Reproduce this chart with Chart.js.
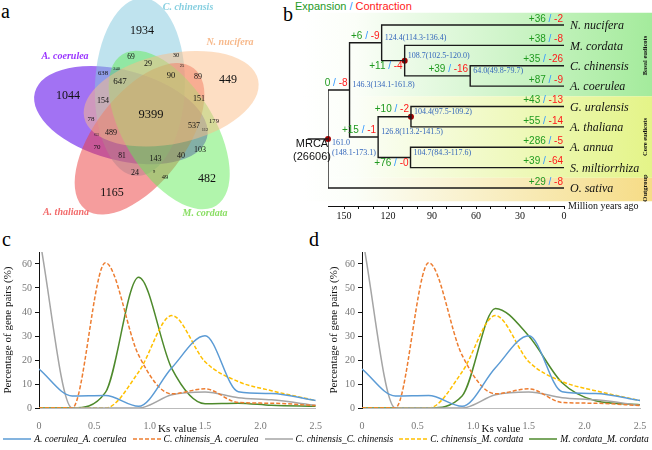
<!DOCTYPE html>
<html>
<head>
<meta charset="utf-8">
<script src="https://cdn.jsdelivr.net/npm/chart.js@4.4.0/dist/chart.umd.min.js"></script>
<style>
body{margin:0;background:#fff;width:652px;height:450px;position:relative;overflow:hidden;font-family:"Liberation Serif",serif}
canvas{position:absolute}
.lab{position:absolute;font-family:"Liberation Serif",serif;font-size:20px;line-height:1}
#head{position:absolute;left:295px;top:0px;font:11px "Liberation Sans",Arial,sans-serif;white-space:nowrap}
#legend{position:absolute;left:0;top:434px;width:652px;display:flex;justify-content:center;align-items:center;font:italic 9.5px "Liberation Serif",serif;white-space:nowrap}
#legend span.it{display:flex;align-items:center;margin:0 3px}
#legend svg{margin-right:3px}
</style>
</head>
<body>
<div class="lab" style="left:1px;top:1px">a</div>
<div class="lab" style="left:283px;top:4px">b</div>
<div class="lab" style="left:2px;top:229px">c</div>
<div class="lab" style="left:309px;top:229px">d</div>
<div id="head"><span style="color:#1f9a1f">Expansion</span><span style="color:#3399ff"> / </span><span style="color:#ff1a1a">Contraction</span></div>

<canvas id="venn" width="280" height="225" style="left:0;top:0"></canvas>
<canvas id="tree" width="369" height="226" style="left:283px;top:0"></canvas>
<canvas id="ksC" width="326" height="196" style="left:0;top:242px"></canvas>
<canvas id="ksD" width="326" height="196" style="left:326px;top:242px"></canvas>
<div id="legend"></div>

<script>
// ---- a: gene family Venn ----
var vennSets = ['A. coerulea', 'C. chinensis', 'N. nucifera', 'M. cordata', 'A. thaliana'];
var vennCounts = [1044, 1934, 449, 482, 1165, 9399, 69, 29, 30, 25, 90, 89, 638, 240, 647, 154, 151, 78, 179, 537, 112, 63, 489, 70, 81, 143, 40, 103, 24, 9, 49];

// ---- b: species tree ----
var tipNames = ['N. nucifera', 'M. cordata', 'C. chinensis', 'A. coerulea', 'G. uralensis', 'A. thaliana', 'A. annua', 'S. miltiorrhiza', 'O. sativa'];
var tipGain = [36, 38, 35, 87, 43, 55, 286, 39, 29];
var tipLoss = [2, 8, 26, 9, 13, 14, 5, 64, 8];
var nodeAge = [64.0, 108.7, 124.4, 104.4, 104.7, 126.8, 146.3, 161.0];
var nodeLow = [49.8, 102.5, 114.3, 97.5, 84.3, 113.2, 134.1, 148.1];
var nodeHigh = [79.7, 120.0, 136.4, 109.2, 117.6, 141.5, 161.8, 173.1];
var nodeGain = [39, 11, 6, 10, 76, 15, 0, null];
var nodeLoss = [16, 4, 9, 2, 0, 1, 8, null];
var nodeKids = [['t2', 't3'], ['t1', 'n0'], ['t0', 'n1'], ['t4', 't5'], ['t6', 't7'], ['n3', 'n4'], ['n2', 'n5'], ['n6', 't8']];
var calibrated = [1, 3, 7];
var groupNames = ['Basal eudicots', 'Core eudicots', 'Outgroup'];
var groupRows = [[1, 4], [5, 8], [9, 9]];
var mrcaFamilies = 26606;

// ---- c/d: Ks distributions ----
var pairLabels = ['A. coerulea_A. coerulea', 'C. chinensis_A. coerulea', 'C. chinensis_C. chinensis', 'C. chinensis_M. cordata', 'M. cordata_M. cordata'];
var ksValues = [0, 0.3, 0.6, 0.9, 1.2, 1.5, 1.8, 2.1, 2.5];
var coerCoer = [16.2, 5, 5.2, 0.7, 16.8, 30.1, 6.8, 6, 3.1];
var chinCoer = [0, 0, 60.5, 22, 5.9, 8, 2.3, 2, 1];
var chinChin = [72, 0, 0, 0, 5.5, 6.7, 4.3, 3.4, 1.1];
var chinCord = [0, 0, 0, 15, 38.5, 19.3, 11, 7.2, 3.1];
var cordCordC = [0, 0, 6.5, 54.5, 16.4, 1.8, 2, 1.1, 0.7];
var cordCordD = [0, 0, 0, 5, 41.5, 30, 10.5, 3, 1.4];

// layout / styles
var serif = "'Liberation Serif','Times New Roman',serif";
var sans = "'Liberation Sans',Arial,sans-serif";
Chart.defaults.font.family = serif;
function sf(size) { return {family: serif, size: size}; }

var vennGeom = {cx: 148, cy: 113, tip: 115, a: 89, b: 45, skew: 4.5};
var vennTipAngle = [190.4, -92.5, -16.7, 53.7, 123];
var vennFill = ['rgba(100,20,235,0.6)', 'rgba(127,199,221,0.5)', 'rgba(251,190,135,0.5)', 'rgba(100,235,90,0.5)', 'rgba(235,60,60,0.5)'];
var vennDrawOrder = [0, 1, 4, 3, 2];
var vennSetColor = ['#9933ff', '#86cfe0', '#f7b98b', '#8ade64', '#f26b6b'];
var vennSetPos = [[65, 56], [188, 7], [230, 42], [205, 213], [66, 212]];
var vennCountPos = [[68,96,12],[142,31,12],[228,80,12],[207,179,12],[112,193,12],[151,115,12.5],
  [131,57,7.5],[148,64,8],[176,55,6.5],[182,66,4.5],[171,76,8.5],[198,77,8],[103,73,6.7],[116.5,68.5,4.5],[120,82,9],[103,101,8],[199,99,8],
  [91,119,7],[214,121,6.7],[194,126,8],[205,130,4.5],[96.5,135,4.5],[111,133,8],[97,147.5,7],[122,156,7.5],[155.5,159,8],[181,155.5,8],[200,149.5,8],
  [135,172.5,8],[154,172,4.5],[165,177,6.5]];

var vennPlugin = {
  id: 'venn',
  beforeDatasetsDraw: function(chart) {
    var xs = chart.scales.x, ys = chart.scales.y, ctx = chart.ctx;
    var k = xs.getPixelForValue(1) - xs.getPixelForValue(0);
    ctx.save();
    vennDrawOrder.forEach(function(i) {
      var t = vennTipAngle[i] * Math.PI / 180, r = (vennTipAngle[i] + vennGeom.skew) * Math.PI / 180;
      var cx = vennGeom.cx + vennGeom.tip * Math.cos(t) - vennGeom.a * Math.cos(r);
      var cy = vennGeom.cy + vennGeom.tip * Math.sin(t) - vennGeom.a * Math.sin(r);
      ctx.beginPath();
      ctx.ellipse(xs.getPixelForValue(cx), ys.getPixelForValue(cy), vennGeom.a * k, vennGeom.b * k, r, 0, 2 * Math.PI);
      ctx.fillStyle = vennFill[i];
      ctx.fill();
    });
    ctx.textAlign = 'center';
    ctx.textBaseline = 'middle';
    ctx.fillStyle = '#111';
    vennCounts.forEach(function(v, i) {
      var p = vennCountPos[i];
      ctx.font = p[2] + 'px ' + serif;
      ctx.fillText(String(v), xs.getPixelForValue(p[0]), ys.getPixelForValue(p[1]));
    });
    ctx.font = 'italic bold 10px ' + serif;
    vennSets.forEach(function(s, i) {
      ctx.fillStyle = vennSetColor[i];
      ctx.fillText(s, xs.getPixelForValue(vennSetPos[i][0]), ys.getPixelForValue(vennSetPos[i][1]));
    });
    ctx.restore();
  }
};

new Chart(document.getElementById('venn'), {
  type: 'scatter',
  data: {datasets: []},
  options: {
    responsive: false, animation: false, devicePixelRatio: 1,
    layout: {padding: 0},
    plugins: {legend: {display: false}, tooltip: {enabled: false}},
    scales: {x: {display: false, min: 0, max: 280}, y: {display: false, min: 0, max: 225, reverse: true}}
  },
  plugins: [vennPlugin]
});

// tree geometry
var nodeRow = [];
function rowOf(id) { return id[0] === 't' ? +id.slice(1) + 1 : nodeRow[+id.slice(1)]; }
function ageOf(id) { return id[0] === 't' ? 0 : nodeAge[+id.slice(1)]; }
nodeKids.forEach(function(k, i) { nodeRow[i] = (rowOf(k[0]) + rowOf(k[1])) / 2; });
var rootIdx = nodeAge.length - 1;
var rootStem = 14;
var labelBelow = [1, 4];
var bandRows = [[0.4, 4.5], [4.5, 8.5], [8.5, 9.65]];
var bandColors = ['#a4eb9c', '#e4f488', '#f6dc86'];

var branchPts = [];
nodeKids.forEach(function(k, i) {
  branchPts.push({x: ageOf(k[0]), y: rowOf(k[0])}, {x: nodeAge[i], y: rowOf(k[0])},
    {x: nodeAge[i], y: rowOf(k[1])}, {x: ageOf(k[1]), y: rowOf(k[1])}, {x: null, y: null});
});

function gainLoss(ctx, g, l, xRight, y) {
  var parts = [['+' + g, '#1f9a1f'], [' / ', '#3399ff'], ['-' + l, '#ff1a1a']];
  if (g === 0) parts[0][0] = '0';
  var x = xRight;
  for (var i = parts.length - 1; i >= 0; i--) {
    ctx.fillStyle = parts[i][1];
    ctx.fillText(parts[i][0], x, y);
    x -= ctx.measureText(parts[i][0]).width;
  }
}

var treePlugin = {
  id: 'tree',
  beforeDatasetsDraw: function(chart) {
    var ys = chart.scales.y, ctx = chart.ctx;
    ctx.save();
    bandRows.forEach(function(b, i) {
      var g = ctx.createLinearGradient(20, 0, chart.width, 0);
      g.addColorStop(0, '#ffffff');
      g.addColorStop(0.15, '#fbfef8');
      g.addColorStop(1, bandColors[i]);
      ctx.fillStyle = g;
      var y0 = ys.getPixelForValue(b[0]), y1 = ys.getPixelForValue(b[1]);
      ctx.fillRect(20, y0, chart.width - 20, y1 - y0);
    });
    ctx.restore();
  },
  afterDatasetsDraw: function(chart) {
    var xs = chart.scales.x, ys = chart.scales.y, ctx = chart.ctx;
    var x0 = xs.getPixelForValue(0);
    ctx.save();
    ctx.textBaseline = 'middle';
    // tips
    tipNames.forEach(function(n, i) {
      var y = ys.getPixelForValue(i + 1);
      ctx.textAlign = 'left';
      ctx.fillStyle = '#111';
      ctx.font = 'italic 12px ' + serif;
      ctx.fillText(n, x0 + 6, y + 1);
      ctx.textAlign = 'right';
      ctx.font = '10px ' + sans;
      gainLoss(ctx, tipGain[i], tipLoss[i], x0 - 1, y - 6);
    });
    // internal nodes
    nodeAge.forEach(function(a, i) {
      var x = xs.getPixelForValue(a), y = ys.getPixelForValue(nodeRow[i]);
      ctx.textAlign = 'left';
      ctx.fillStyle = '#3366bb';
      ctx.font = '8px ' + serif;
      if (i === rootIdx) {
        ctx.fillText(a.toFixed(1), x + 4, y + 4);
        ctx.fillText('(' + nodeLow[i].toFixed(1) + '-' + nodeHigh[i].toFixed(1) + ')', x + 4, y + 14);
        ctx.textAlign = 'center';
        ctx.fillStyle = '#111';
        ctx.font = '11px ' + sans;
        ctx.fillText('MRCA', x - 16, y + 5);
        ctx.fillText('(' + mrcaFamilies + ')', x - 16, y + 18);
      } else {
        ctx.fillText(a.toFixed(1) + '(' + nodeLow[i].toFixed(1) + '-' + nodeHigh[i].toFixed(1) + ')', x + 3, y - 5);
        ctx.textAlign = 'right';
        ctx.font = '10px ' + sans;
        gainLoss(ctx, nodeGain[i], nodeLoss[i], x - 2, labelBelow.indexOf(i) >= 0 ? y + 6 : y - 7);
      }
    });
    // group labels
    ctx.fillStyle = '#111';
    ctx.font = 'bold 6.5px ' + serif;
    ctx.textAlign = 'center';
    groupNames.forEach(function(g, i) {
      var yc = ys.getPixelForValue((groupRows[i][0] + groupRows[i][1]) / 2);
      ctx.save();
      ctx.translate(chart.width - 7, yc);
      ctx.rotate(-Math.PI / 2);
      ctx.fillText(g, 0, 0);
      ctx.restore();
    });
    // axis title
    ctx.textAlign = 'left';
    ctx.font = '10px ' + serif;
    ctx.fillText('Million years ago', x0 + 4, xs.top);
    ctx.restore();
  }
};

new Chart(document.getElementById('tree'), {
  type: 'scatter',
  data: {datasets: [
    {data: branchPts, showLine: true, borderColor: '#1a1a1a', borderWidth: 1.4, pointRadius: 0, tension: 0, spanGaps: false},
    {data: [{x: nodeAge[rootIdx] + rootStem, y: nodeRow[rootIdx]}, {x: nodeAge[rootIdx], y: nodeRow[rootIdx]}], showLine: true, clip: false, borderColor: '#1a1a1a', borderWidth: 1.4, pointRadius: 0},
    {data: calibrated.map(function(i) { return {x: nodeAge[i], y: nodeRow[i]}; }), pointRadius: 3, backgroundColor: '#a00000', borderWidth: 0, clip: false}
  ]},
  options: {
    responsive: false, animation: false, devicePixelRatio: 1,
    layout: {padding: {left: 45, right: 88, top: 4.6, bottom: 0}},
    plugins: {legend: {display: false}, tooltip: {enabled: false}},
    scales: {
      x: {min: 0, max: 161, reverse: true,
        ticks: {stepSize: 10, autoSkip: false, maxRotation: 0, color: '#111', font: sf(10), padding: 1,
          callback: function(v) { return v % 30 === 0 ? v : ''; }},
        afterBuildTicks: function(s) { s.ticks = s.ticks.filter(function(t) { return t.value <= 160; }); },
        grid: {drawOnChartArea: false, color: '#111', tickLength: 3},
        border: {color: '#111'},
        afterFit: function(s) { s.height = 20; }},
      y: {display: false, min: 0, max: 9.883, reverse: true}
    }
  },
  plugins: [treePlugin]
});

// Ks charts
var ksStyles = [
  {color: '#5b9bd5', dash: []},
  {color: '#ed7d31', dash: [4, 2]},
  {color: '#a5a5a5', dash: []},
  {color: '#ffc000', dash: [4, 2]},
  {color: '#4e8a2c', dash: []}
];

function ksChart(id, seriesList, yWidth, padRight) {
  return new Chart(document.getElementById(id), {
    type: 'line',
    data: {datasets: seriesList.map(function(s, i) {
      return {label: pairLabels[i],
        data: ksValues.map(function(k, j) { return {x: k, y: s[j]}; }),
        borderColor: ksStyles[i].color, borderDash: ksStyles[i].dash, borderWidth: 1.5,
        pointRadius: 0, cubicInterpolationMode: 'monotone', fill: false};
    })},
    options: {
      responsive: false, animation: false, devicePixelRatio: 1,
      layout: {padding: {top: 10, right: padRight, left: 0, bottom: 0}},
      plugins: {legend: {display: false}, tooltip: {enabled: false}},
      scales: {
        x: {type: 'linear', min: 0, max: 2.5,
          ticks: {stepSize: 0.5, color: '#777', font: sf(10), padding: 4, maxRotation: 0},
          grid: {display: false}, border: {color: '#bbb'},
          title: {display: true, text: 'Ks value', color: '#111', font: sf(11), padding: {top: 0, bottom: 2}},
          afterFit: function(s) { s.height = 30; }},
        y: {min: 0, max: 65,
          ticks: {stepSize: 10, color: '#777', font: sf(10), padding: 3},
          afterBuildTicks: function(s) { s.ticks = s.ticks.filter(function(t) { return t.value % 10 === 0; }); },
          grid: {drawOnChartArea: false, color: '#111', tickLength: 4},
          border: {color: '#111'},
          title: {display: true, text: 'Percentage of gene pairs (%)', color: '#111', font: sf(11), padding: {top: 2, bottom: 0}},
          afterFit: function(s) { s.width = yWidth; }}
      }
    }
  });
}

ksChart('ksC', [coerCoer, chinCoer, chinChin, chinCord, cordCordC], 39, 8);
ksChart('ksD', [coerCoer, chinCoer, chinChin, chinCord, cordCordD], 36, 12);

// legend
var leg = document.getElementById('legend');
pairLabels.forEach(function(l, i) {
  var it = document.createElement('span');
  it.className = 'it';
  var dash = ksStyles[i].dash.length ? ' stroke-dasharray="' + ksStyles[i].dash.join(',') + '"' : '';
  it.innerHTML = '<svg width="28" height="6"><line x1="0" y1="3" x2="28" y2="3" stroke="' + ksStyles[i].color + '" stroke-width="1.5"' + dash + '/></svg><span>' + l + '</span>';
  leg.appendChild(it);
});
</script>
</body>
</html>
